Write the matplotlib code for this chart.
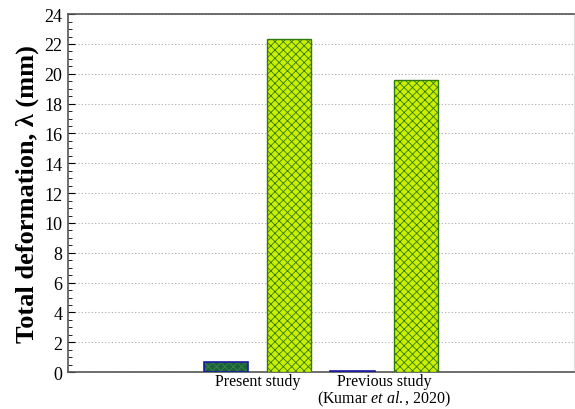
import numpy as np
import matplotlib.pyplot as plt
from matplotlib.ticker import MultipleLocator

plt.rcParams["font.family"] = "Liberation Serif"
plt.rcParams["mathtext.fontset"] = "custom"
plt.rcParams["mathtext.it"] = "Liberation Serif:italic"
plt.rcParams["mathtext.rm"] = "Liberation Serif"
plt.rcParams["hatch.linewidth"] = 0.6

categories = ["Present study", "Previous study\n(Kumar $\\it{et\\ al.}$, 2020)"]
small_vals = [0.65, 0.1]
large_vals = [22.35, 19.6]

x = np.arange(len(categories))
w = 0.35

fig = plt.figure(figsize=(5.75, 4.1), dpi=100)
ax = fig.add_axes([0.118, 0.090, 0.880, 0.873])

# small bars: green hatch with blue outline
ax.bar(x - 0.25, small_vals, w, color="#1f5f3f", edgecolor="#2e8b3a",
       hatch="xxxx", linewidth=0, zorder=3)
ax.bar(x - 0.25, small_vals, w, fill=False, edgecolor="#1a1aa0",
       linewidth=1.2, zorder=4)

# large bars
ax.bar(x + 0.25, large_vals, w, color="#ccee00", edgecolor="#2f7a10",
       hatch="xxxx", linewidth=1.0, zorder=3)

ax.set_xlim(-1.5, 2.5)
ax.set_ylim(0, 24)
ax.yaxis.set_major_locator(MultipleLocator(2))
ax.yaxis.set_minor_locator(MultipleLocator(0.5))
ax.grid(axis="y", linestyle=(0, (1, 2)), color="#aaaaaa", linewidth=0.8, zorder=0)

ax.set_xticks(x)
ax.set_xticklabels(categories, fontsize=11.5, linespacing=0.95)
ax.tick_params(axis="x", length=0, pad=1)
ax.tick_params(axis="y", which="major", direction="in", length=5, labelsize=13,
               right=False, pad=4)
ax.tick_params(axis="y", which="minor", direction="in", length=3)

for s in ["left", "top", "bottom"]:
    ax.spines[s].set_color("#555555")
    ax.spines[s].set_linewidth(1.2)
ax.spines["right"].set_color("#dddddd")
ax.spines["right"].set_linewidth(0.8)

ax.set_ylabel("Total deformation, λ (mm)", fontsize=19, fontweight="bold", labelpad=4)

fig.savefig("out.png", dpi=100)
